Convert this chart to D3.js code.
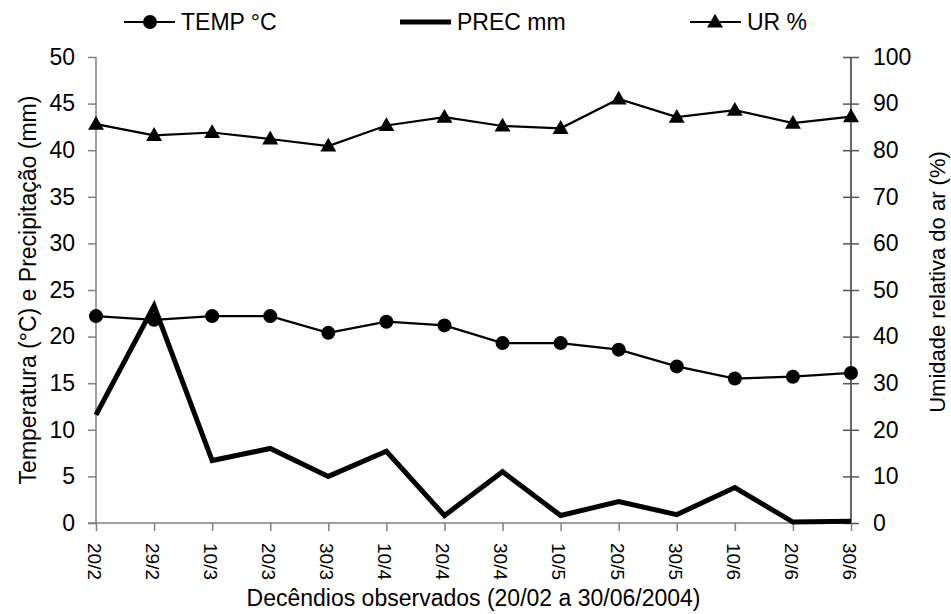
<!DOCTYPE html>
<html>
<head>
<meta charset="utf-8">
<script src="https://cdn.jsdelivr.net/npm/d3@7"></script>
<style>
  body { margin: 0; background: #fff; }
  text { font-family: "Liberation Sans", Arial, sans-serif; fill: #000; }
</style>
</head>
<body>
<svg id="chart" width="951" height="614"></svg>
<script>
// decêndios observados
const dates = ['20/2', '29/2', '10/3', '20/3', '30/3', '10/4', '20/4', '30/4', '10/5', '20/5', '30/5', '10/6', '20/6', '30/6']
const temp = [22.2, 21.8, 22.2, 22.2, 20.4, 21.6, 21.2, 19.3, 19.3, 18.6, 16.8, 15.5, 15.7, 16.1]
const prec = [11.6, 23.3, 6.7, 8.0, 5.0, 7.7, 0.8, 5.5, 0.8, 2.3, 0.9, 3.8, 0.1, 0.2]
const ur = [85.6, 83.2, 83.8, 82.4, 80.9, 85.3, 87.1, 85.2, 84.7, 91.0, 87.1, 88.6, 85.8, 87.2]
const leftTicks = [0, 5, 10, 15, 20, 25, 30, 35, 40, 45, 50]
const rightTicks = [0, 10, 20, 30, 40, 50, 60, 70, 80, 90, 100]

const svg = d3.select('#chart')
const margin = { left: 96, right: 100, top: 57, bottom: 91 }
const width = 951 - margin.left - margin.right
const height = 614 - margin.top - margin.bottom

const g = svg.append('g').attr('transform', `translate(${margin.left},${margin.top})`)

const x = d3.scalePoint().domain(dates).range([0, width])
const yL = d3.scaleLinear().domain([0, 50]).range([height, 0])
const yR = d3.scaleLinear().domain([0, 100]).range([height, 0])

// left axis
const axL = g.append('g')
  .call(d3.axisLeft(yL).tickValues(leftTicks).tickSize(8).tickPadding(13))
axL.selectAll('path, line').attr('stroke', '#808080').attr('stroke-width', 1.5)
axL.selectAll('text').style('font-size', '23px')
axL.select('.domain').attr('d', `M0,${height}V0`)

// right axis, ticks cross the line
const axR = g.append('g').attr('transform', `translate(${width},0)`)
  .call(d3.axisRight(yR).tickValues(rightTicks).tickSize(8).tickPadding(14))
axR.select('.domain').attr('d', `M0,${height}V0`).attr('stroke', '#000').attr('stroke-width', 1.2)
axR.selectAll('.tick line').attr('x1', -8).attr('stroke', '#555').attr('stroke-width', 1.5)
axR.selectAll('text').style('font-size', '23px')

// bottom axis
const axB = g.append('g').attr('transform', `translate(0,${height})`)
  .call(d3.axisBottom(x).tickSize(8).tickPadding(4))
axB.selectAll('path, line').attr('stroke', '#808080').attr('stroke-width', 1.5)
axB.select('.domain').attr('d', `M-8,0H${width}`)
axB.selectAll('text')
  .style('font-size', '19px')
  .attr('text-anchor', 'start')
  .attr('dy', '0.35em')
  .attr('transform', 'translate(-2,20) rotate(90)')
  .attr('y', 0)
  .attr('x', 0)

// PREC
g.append('path')
  .datum(prec)
  .attr('fill', 'none')
  .attr('stroke', '#000')
  .attr('stroke-width', 5)
  .attr('stroke-linejoin', 'miter')
  .attr('d', d3.line().x((d, i) => x(dates[i])).y(d => yL(d)))

// TEMP
g.append('path')
  .datum(temp)
  .attr('fill', 'none')
  .attr('stroke', '#000')
  .attr('stroke-width', 2.2)
  .attr('d', d3.line().x((d, i) => x(dates[i])).y(d => yL(d)))
g.selectAll('.tp').data(temp).enter().append('circle')
  .attr('cx', (d, i) => x(dates[i]))
  .attr('cy', d => yL(d))
  .attr('r', 7)

// UR
const tri = d3.symbol().type(d3.symbolTriangle).size(110)
g.append('path')
  .datum(ur)
  .attr('fill', 'none')
  .attr('stroke', '#000')
  .attr('stroke-width', 2.2)
  .attr('d', d3.line().x((d, i) => x(dates[i])).y(d => yR(d)))
g.selectAll('.up').data(ur).enter().append('path')
  .attr('d', tri)
  .attr('transform', (d, i) => `translate(${x(dates[i])},${yR(d) + 1})`)

// axis titles
svg.append('text')
  .attr('transform', `translate(28,${margin.top + height / 2}) rotate(-90)`)
  .attr('text-anchor', 'middle')
  .attr('dy', '0.35em')
  .style('font-size', '23px')
  .text('Temperatura (°C) e Precipitação (mm)')
svg.append('text')
  .attr('transform', `translate(937,${margin.top + height / 2 - 8}) rotate(-90)`)
  .attr('text-anchor', 'middle')
  .attr('dy', '0.35em')
  .style('font-size', '22px')
  .text('Umidade relativa do ar (%)')
svg.append('text')
  .attr('x', margin.left + width / 2)
  .attr('y', 606)
  .attr('text-anchor', 'middle')
  .style('font-size', '23px')
  .text('Decêndios observados (20/02 a 30/06/2004)')

// legend
const legY = 22
const leg = [
  { name: 'TEMP °C', x: 124, mark: 'circle', w: 2.2 },
  { name: 'PREC mm', x: 400, mark: null, w: 5 },
  { name: 'UR %', x: 690, mark: 'tri', w: 2.2 }
]
leg.forEach(l => {
  svg.append('line')
    .attr('x1', l.x).attr('x2', l.x + 51)
    .attr('y1', legY).attr('y2', legY)
    .attr('stroke', '#000').attr('stroke-width', l.w)
  if (l.mark === 'circle') {
    svg.append('circle').attr('cx', l.x + 26).attr('cy', legY).attr('r', 7)
  } else if (l.mark === 'tri') {
    svg.append('path').attr('d', tri).attr('transform', `translate(${l.x + 25},${legY + 1})`)
  }
  svg.append('text')
    .attr('x', l.x + 57).attr('y', legY)
    .attr('dy', '0.35em')
    .style('font-size', '23px')
    .text(l.name)
})
</script>
</body>
</html>
